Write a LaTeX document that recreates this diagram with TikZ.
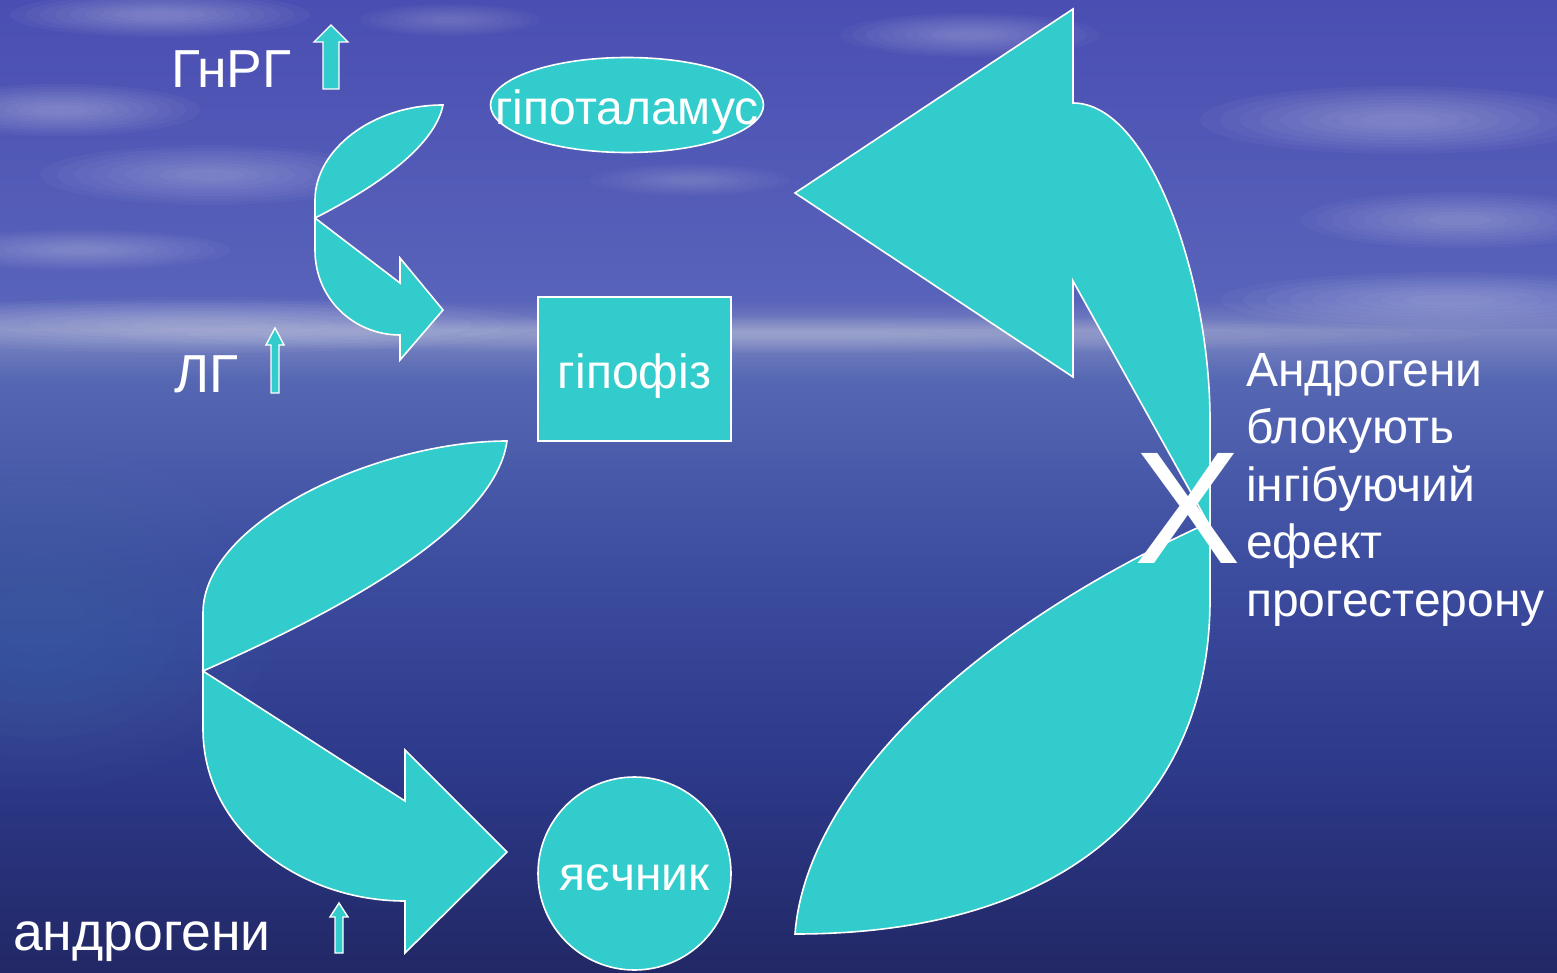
\documentclass[tikz,border=0pt]{standalone}
\usepackage{fontspec}
\setmainfont{Liberation Sans}
\definecolor{tealfill}{HTML}{33CCCC}
\definecolor{bgA}{HTML}{4A4EB2}
\definecolor{bgB}{HTML}{5863BA}
\definecolor{bgC}{HTML}{7C86C2}
\definecolor{bgD}{HTML}{5567B3}
\definecolor{bgE}{HTML}{3D4DA0}
\definecolor{bgF}{HTML}{2C3888}
\definecolor{bgG}{HTML}{222865}
\definecolor{seatint}{HTML}{5FA0C8}
\newcommand\mycloud[6]{%
  \foreach \s in {1,0.9,0.8,0.7,0.6,0.5,0.4,0.3,0.2}{\fill[#5, opacity=#6] (#1,#2) ellipse ({#3*\s} and {#4*\s});}}
\tikzset{
  blockshape/.style={fill=tealfill, draw=white, line width=1.6pt, line join=miter},
  lbl/.style={text=white, inner sep=0pt},
  bigfont/.style={font=\fontsize{53.5}{60}\selectfont},
  midfont/.style={font=\fontsize{48}{57.5}\selectfont},
}
\begin{document}
\begin{tikzpicture}[x=1pt,y=-1pt]
\useasboundingbox (0,0) rectangle (1557,973);
% background
\fill[top color=bgA, bottom color=bgB] (0,0) rectangle (1557,300.5);
\fill[top color=bgB, bottom color=bgC] (0,300) rectangle (1557,330.5);
\fill[top color=bgC, bottom color=bgD] (0,330) rectangle (1557,380.5);
\fill[top color=bgD, bottom color=bgE] (0,380) rectangle (1557,560.5);
\fill[top color=bgE, bottom color=bgF] (0,560) rectangle (1557,780.5);
\fill[top color=bgF, bottom color=bgG] (0,780) rectangle (1557,973);
% clouds and haze
\mycloud{160}{15}{150}{22}{white}{0.035}
\mycloud{60}{110}{140}{26}{white}{0.035}
\mycloud{210}{175}{170}{30}{white}{0.03}
\mycloud{80}{250}{150}{20}{white}{0.03}
\mycloud{200}{325}{340}{28}{white}{0.035}
\mycloud{800}{335}{680}{18}{white}{0.03}
\mycloud{1450}{300}{230}{28}{white}{0.035}
\mycloud{970}{35}{130}{22}{white}{0.03}
\mycloud{450}{20}{90}{16}{white}{0.025}
\mycloud{1400}{120}{200}{34}{white}{0.035}
\mycloud{1460}{220}{160}{28}{white}{0.03}
\mycloud{690}{180}{100}{16}{white}{0.025}
\mycloud{40}{620}{230}{170}{seatint}{0.025}

% small curved arrow (hypothalamus -> pituitary)
\draw[blockshape] (443,105) .. controls (372,105) and (315,150) .. (315,200)
  -- (315,250) .. controls (315,300) and (355,335) .. (400,335)
  -- (400,360) -- (443,310) -- (400,258) -- (400,283)
  -- (315,218) .. controls (380,185) and (435,145) .. (443,105) -- cycle;
% large curved arrow (pituitary -> ovary)
\draw[blockshape] (507,441) .. controls (380,441) and (203,520) .. (203,613)
  -- (203,729) .. controls (203,830) and (300,901) .. (405,901)
  -- (405,953) -- (507,852) -- (405,750) -- (405,801)
  -- (203,671) .. controls (330,615) and (495,530) .. (507,441) -- cycle;
% large curved arrow (ovary -> hypothalamus)
\draw[blockshape] (1073,103) .. controls (1150,103) and (1210,280) .. (1210,420)
  -- (1210,600) .. controls (1210,790) and (1080,934) .. (795,934)
  .. controls (805,800) and (950,640) .. (1208,523)
  -- (1073,281) -- (1073,377) -- (795,193) -- (1073,9) -- cycle;

% nodes
\draw[blockshape] (627,105) ellipse (136.5 and 47.5);
\node[lbl, midfont, anchor=base] (hyp) at (627,125) {гіпоталамус};
\node[blockshape, minimum width=193pt, minimum height=144pt, inner sep=0pt] (pitbox) at (634.5,369) {};
\node[lbl, midfont, anchor=base] (pit) at (634.5,388) {гіпофіз};
\node[blockshape, circle, minimum size=193pt, inner sep=0pt] (ovbox) at (634.5,873.5) {};
\node[lbl, midfont, anchor=base] (ov) at (634.5,890) {яєчник};

% labels
\node[lbl, bigfont, anchor=base west] (gnrg) at (171,88) {ГнРГ};
\node[lbl, bigfont, anchor=base west] (lg) at (174,392) {ЛГ};
\node[lbl, bigfont, anchor=base west] (andr) at (13,950) {андрогени};
\node[lbl, midfont, anchor=north west, align=left] (note) at (1246,353)
  {Андрогени\\блокують\\інгібуючий\\ефект\\прогестерону};
\node[lbl, font=\fontsize{160}{160}\selectfont, anchor=base west] (cross) at (1134,563) {X};

% small up arrows
\draw[blockshape, line width=1.4pt] (331,25) -- (348,42) -- (339,42) -- (339,89) -- (323,89) -- (323,42) -- (314,42) -- cycle;
\draw[blockshape, line width=1.4pt] (275,328) -- (284,345) -- (279,345) -- (279,393) -- (271,393) -- (271,345) -- (266,345) -- cycle;
\draw[blockshape, line width=1.4pt] (339,903) -- (348,917) -- (343,917) -- (343,953) -- (335,953) -- (335,917) -- (330,917) -- cycle;
\end{tikzpicture}
\end{document}
